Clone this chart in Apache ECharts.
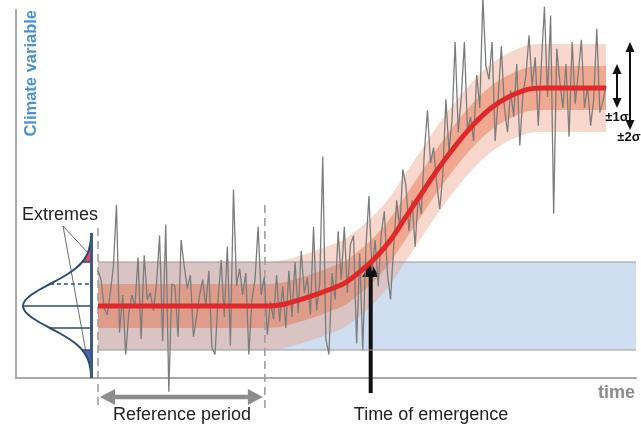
<!DOCTYPE html>
<html><head><meta charset="utf-8">
<script src="https://cdn.jsdelivr.net/npm/echarts@6/dist/echarts.min.js"></script>
<style>html,body{margin:0;padding:0;background:#fff}#c{width:641px;height:430px}</style>
</head><body><div id="c"></div>
<script>
// ---------- data (time steps, climate variable in units of reference-period sigma) ----------
const noiseValues = [
  1.6, 1.2, -0.1, -0.4, 0.6, 1.8, 4.6, -1.2, 0.5, -2.2,
  -0.3, 0.5, 0.0, 2.2, -1.5, 2.3, 0.3, 0.6, -0.2, 1.0,
  3.2, -1.6, 3.7, -3.9, 1.0, 0.9, -1.4, 3.0, 1.8, 0.8,
  1.4, -1.4, -0.5, 0.5, 1.2, 0.0, 1.6, -1.9, -2.2, 0.3,
  2.1, -0.5, 2.7, -1.8, 5.3, 0.9, 1.7, 0.5, 1.5, -2.2,
  0.3, 1.2, 3.6, 0.5, 1.3, -1.3, 0.2, -0.6, 1.4, -0.7,
  0.9, -1.0, 1.6, -0.5, 2.0, -0.3, 2.5, 0.6, 1.3, -0.4,
  3.6, -0.2, 1.0, 6.8, -1.5, -2.2, 1.5, 0.3, 3.4, 1.2,
  3.6, 0.6, 2.8, 3.2, -1.7, 2.4, -2.0, 2.6, 5.0, 1.6,
  3.0, 0.9, 3.3, 4.3, 1.5, 0.3, 2.6, 4.8, 3.5, 6.2,
  5.5, 3.4, 4.8, 2.7, 5.0, 4.2, 7.0, 8.9, 6.5, 7.2,
  5.6, 4.4, 6.0, 9.4, 7.0, 8.5, 12.0, 7.9, 9.5, 12.0,
  8.0, 8.6, 7.5, 10.5, 9.0, 14.0, 10.9, 10.3, 12.0, 7.5,
  9.5, 11.8, 9.0, 7.9, 9.8, 8.6, 11.0, 7.3, 9.6, 10.5,
  12.3, 10.0, 11.3, 8.2, 11.0, 13.6, 9.5, 13.2, 4.2, 11.7,
  10.2, 9.0, 11.0, 7.7, 12.0, 9.2, 10.6, 12.1, 9.0, 10.0,
  8.2, 9.4, 12.6, 8.8, 9.3, 10.0
];
const meanTimes = [0,5,10,15,20,25,30,35,40,45,50,55,60,65,70,75,80,85,90,95,100,105,110,115,120,125,130,135,140,145,150,155,160,165];
const meanValues = [0,0,0,0,0,0,0,0,0,0,0,
  0.0, 0.07, 0.26, 0.48, 0.74, 1.03, 1.55, 2.18, 3.0, 4.05, 5.09, 6.14, 7.09, 7.95, 8.68, 9.23, 9.61, 9.86,
  9.91, 9.91, 9.91, 9.91, 9.91];
const refStart = 0, refEnd = 54.2;          // reference period
const envelopeHalf = 2;                     // +-2 sigma variability envelope
const bandInner = 1, bandOuter = 2;         // +-1 sigma and +-2 sigma bands around the mean
// distribution of the reference period (sigma offsets and relative density)
const distZ = [-3.25,-3,-2.75,-2.5,-2.25,-2,-1.75,-1.5,-1.25,-1,-0.75,-0.5,-0.25,0,0.25,0.5,0.75,1,1.25,1.5,1.75,2,2.25,2.5,2.75,3,3.25];
const distG = [0.005,0.011,0.023,0.044,0.08,0.135,0.216,0.325,0.458,0.607,0.755,0.882,0.969,1.0,0.969,0.882,0.755,0.607,0.458,0.325,0.216,0.135,0.08,0.044,0.023,0.011,0.005];
const distBaseT = -2.11, distWidthT = 22.25, distTopZ = 3.32;

// ---------- layout ----------
const xMin = -26.634, xMax = 174.74, yMin = -3.2727, yMax = 13.4545;
const FONT = '"Liberation Sans", Arial, Helvetica, sans-serif';

const noiseData = noiseValues.map((v, i) => [i, v]);
const meanData = meanTimes.map((t, i) => [t, meanValues[i]]);

function emergenceTime() {
  for (let i = 1; i < meanValues.length; i++) {
    if (meanValues[i] >= envelopeHalf) {
      const a = meanValues[i - 1], b = meanValues[i];
      return meanTimes[i - 1] + (envelopeHalf - a) / (b - a) * (meanTimes[i] - meanTimes[i - 1]);
    }
  }
  return meanTimes[meanTimes.length - 1];
}

// Catmull-Rom smoothing of pixel points (rendering only)
function smoothPts(pts, n) {
  const out = [];
  for (let i = 0; i < pts.length - 1; i++) {
    const p0 = pts[Math.max(i - 1, 0)], p1 = pts[i], p2 = pts[i + 1], p3 = pts[Math.min(i + 2, pts.length - 1)];
    for (let s = 0; s < n; s++) {
      const u = s / n, u2 = u * u, u3 = u2 * u;
      const f = k => 0.5 * (2 * p1[k] + (-p0[k] + p2[k]) * u + (2 * p0[k] - 5 * p1[k] + 4 * p2[k] - p3[k]) * u2 + (-p0[k] + 3 * p1[k] - 3 * p2[k] + p3[k]) * u3);
      out.push([f(0), f(1)]);
    }
  }
  out.push(pts[pts.length - 1]);
  return out;
}

function renderEnvelope(params, api) {
  const p0 = api.coord([refStart, envelopeHalf]);
  const p1 = api.coord([xMax, -envelopeHalf]);
  return { type: 'rect', shape: { x: p0[0], y: p0[1], width: p1[0] - p0[0], height: p1[1] - p0[1] },
    style: { fill: '#cfdff1' } };
}

function renderBands(params, api) {
  const meanPx = smoothPts(meanTimes.map((t, i) => api.coord([t, meanValues[i]])), 8);
  const sig = api.coord([0, 0])[1] - api.coord([0, 1])[1];
  const band = (k, fill) => {
    const up = meanPx.map(p => [p[0], p[1] - k * sig]);
    const lo = meanPx.map(p => [p[0], p[1] + k * sig]).reverse();
    return { type: 'polygon', shape: { points: up.concat(lo) }, style: { fill: fill } };
  };
  return { type: 'group', children: [
    band(bandOuter, 'rgba(235,144,109,0.35)'),
    band(bandInner, 'rgba(229,105,62,0.42)')
  ] };
}

function renderDist(params, api) {
  const c = [];
  const base = api.coord([distBaseT, 0])[0];
  const pt = (g, z) => api.coord([distBaseT - distWidthT * g, z]);
  const curve = distZ.map((z, i) => pt(distG[i], z));
  const yTop = api.coord([0, distTopZ])[1];
  const yBot = api.coord([0, yMin])[1];
  const gAt = z => distG[distZ.indexOf(z)];
  const topPts = [], botPts = [];
  distZ.forEach((z, i) => { if (z >= 2) topPts.push(curve[i]); if (z <= -2) botPts.push(curve[i]); });
  topPts.push([base, yTop]); topPts.push([base, api.coord([0, 2])[1]]);
  botPts.unshift([base, yBot]); botPts.push([base, api.coord([0, -2])[1]]);
  c.push({ type: 'polygon', shape: { points: topPts }, style: { fill: '#e8485e' } });
  c.push({ type: 'polygon', shape: { points: botPts }, style: { fill: '#4a66b3' } });
  const navy = '#2b4a72';
  [[0, false], [1, true], [-1, false], [2, false], [-2, false]].forEach(([z, dashed]) => {
    const p = pt(gAt(z), z);
    c.push({ type: 'line', shape: { x1: p[0], y1: p[1], x2: base, y2: p[1] },
      style: { stroke: navy, lineWidth: 1.5, lineDash: dashed ? [4, 3] : null } });
  });
  const pts = [[base, yBot]].concat(curve).concat([[base, yTop]]);
  c.push({ type: 'polyline', shape: { points: pts, smooth: 0.3 }, style: { stroke: navy, lineWidth: 2, fill: null } });
  c.push({ type: 'line', shape: { x1: base, y1: yTop, x2: base, y2: yBot }, style: { stroke: '#3d5a80', lineWidth: 3 } });
  return { type: 'group', children: c };
}

function renderAnno(params, api) {
  const c = [];
  const x0 = api.coord([refStart, 0])[0];
  const x1 = api.coord([refEnd, 0])[0];
  const dash = { stroke: '#a0a0a0', lineWidth: 1.6, lineDash: [8, 5] };
  c.push({ type: 'line', shape: { x1: x0, y1: 228, x2: x0, y2: 410 }, style: dash });
  c.push({ type: 'line', shape: { x1: x1, y1: 205, x2: x1, y2: 410 }, style: dash });
  const ya = 397, gray = '#8c8c8c';
  c.push({ type: 'line', shape: { x1: x0 + 14, y1: ya, x2: x1 - 14, y2: ya }, style: { stroke: gray, lineWidth: 4.5 } });
  c.push({ type: 'polygon', shape: { points: [[x0 + 2, ya], [x0 + 17, ya - 8], [x0 + 17, ya + 8]] }, style: { fill: gray } });
  c.push({ type: 'polygon', shape: { points: [[x1 - 2, ya], [x1 - 17, ya - 8], [x1 - 17, ya + 8]] }, style: { fill: gray } });
  const tE = emergenceTime();
  const pe = api.coord([tE, envelopeHalf]);
  const xe = pe[0], ye = pe[1];
  c.push({ type: 'rect', shape: { x: xe - 2, y: ye + 12, width: 4, height: 393 - ye - 12 }, style: { fill: '#111' } });
  c.push({ type: 'polygon', shape: { points: [[xe, ye], [xe - 8.5, ye + 15], [xe + 8.5, ye + 15]] }, style: { fill: '#111' } });
  const last = meanValues[meanValues.length - 1];
  const tEnd = meanTimes[meanTimes.length - 1];
  const xb = api.coord([tEnd, last])[0];
  [[bandInner, xb + 11], [bandOuter, xb + 24]].forEach(([k, xa]) => {
    const yt = api.coord([tEnd, last + k])[1] - 2, yb = api.coord([tEnd, last - k])[1] - 2;
    c.push({ type: 'line', shape: { x1: xa, y1: yt + 8, x2: xa, y2: yb - 8 }, style: { stroke: '#111', lineWidth: 2 } });
    c.push({ type: 'polygon', shape: { points: [[xa, yt], [xa - 4.5, yt + 10], [xa + 4.5, yt + 10]] }, style: { fill: '#111' } });
    c.push({ type: 'polygon', shape: { points: [[xa, yb], [xa - 4.5, yb - 10], [xa + 4.5, yb - 10]] }, style: { fill: '#111' } });
  });
  return { type: 'group', children: c };
}

const chart = echarts.init(document.getElementById('c'));
chart.setOption({
  animation: false,
  backgroundColor: '#ffffff',
  grid: { left: 16, right: 5, top: 10, bottom: 52 },
  xAxis: { type: 'value', min: xMin, max: xMax,
    axisLine: { show: true, onZero: false, lineStyle: { color: '#a8a8a8', width: 2 } },
    axisTick: { show: false }, axisLabel: { show: false }, splitLine: { show: false } },
  yAxis: { type: 'value', min: yMin, max: yMax,
    axisLine: { show: true, onZero: false, lineStyle: { color: '#a8a8a8', width: 2 } },
    axisTick: { show: false }, axisLabel: { show: false }, splitLine: { show: false } },
  series: [
    { type: 'custom', renderItem: renderEnvelope, data: [[0, 0]], clip: false, silent: true },
    { type: 'custom', renderItem: renderBands, data: [[0, 0]], clip: false, silent: true },
    { type: 'line', data: [[refStart, envelopeHalf], [xMax, envelopeHalf]], symbol: 'none', silent: true,
      lineStyle: { color: '#9a9a9a', width: 1.2 } },
    { type: 'line', data: [[refStart, -envelopeHalf], [xMax, -envelopeHalf]], symbol: 'none', silent: true,
      lineStyle: { color: '#9a9a9a', width: 1.2 } },
    { type: 'line', name: 'noise', data: noiseData, symbol: 'none', clip: false, silent: true,
      lineStyle: { color: '#7c7c7c', width: 1.3 } },
    { type: 'line', name: 'mean', data: meanData, symbol: 'none', silent: true, smooth: 0.3,
      lineStyle: { color: '#e0282a', width: 5 } },
    { type: 'custom', renderItem: renderDist, data: [[0, 0]], clip: false, silent: true },
    { type: 'custom', renderItem: renderAnno, data: [[0, 0]], clip: false, silent: true }
  ],
  graphic: [
    { type: 'text', x: 31, y: 10, rotation: Math.PI / 2,
      style: { text: 'Climate variable', font: 'bold 16.5px ' + FONT, fill: '#4a90d2', align: 'right', verticalAlign: 'middle' } },
    { type: 'text', x: 22, y: 215, style: { text: 'Extremes', font: '18px ' + FONT, fill: '#222', align: 'left', verticalAlign: 'middle' } },
    { type: 'line', shape: { x1: 63, y1: 226, x2: 89, y2: 254 }, style: { stroke: '#444', lineWidth: 0.8 } },
    { type: 'line', shape: { x1: 63, y1: 226, x2: 87, y2: 358 }, style: { stroke: '#444', lineWidth: 0.8 } },
    { type: 'text', x: 182, y: 415, style: { text: 'Reference period', font: '18px ' + FONT, fill: '#222', align: 'center', verticalAlign: 'middle' } },
    { type: 'text', x: 431, y: 415, style: { text: 'Time of emergence', font: '18px ' + FONT, fill: '#222', align: 'center', verticalAlign: 'middle' } },
    { type: 'text', x: 635, y: 393, style: { text: 'time', font: 'bold 18px ' + FONT, fill: '#8c8c8c', align: 'right', verticalAlign: 'middle' } },
    { type: 'text', x: 554, y: 296, style: { text: 'variability envelope', font: '18px ' + FONT, fill: '#222', align: 'center', verticalAlign: 'middle' } },
    { type: 'text', x: 554, y: 323, style: { text: 'of reference period', font: '18px ' + FONT, fill: '#222', align: 'center', verticalAlign: 'middle' } },
    { type: 'text', x: 617, y: 117, style: { text: '±1σ', font: 'bold 13px ' + FONT, fill: '#111', align: 'center', verticalAlign: 'middle' } },
    { type: 'text', x: 629, y: 137, style: { text: '±2σ', font: 'bold 13px ' + FONT, fill: '#111', align: 'center', verticalAlign: 'middle' } }
  ]
});
</script>
</body></html>
